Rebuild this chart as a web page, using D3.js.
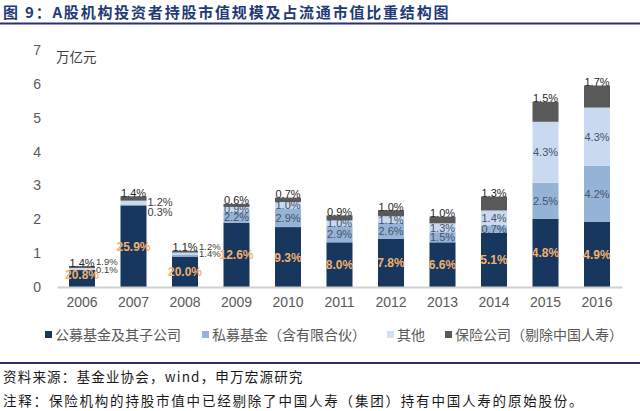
<!DOCTYPE html>
<html>
<head>
<meta charset="utf-8">
<script src="https://cdn.jsdelivr.net/npm/d3@7"></script>
<style>
  html, body { margin: 0; padding: 0; background: #fff; }
  svg { display: block; }
  text { font-family: Arial, "Liberation Sans", "Noto Sans CJK SC", sans-serif; }
  .cjk { font-family: "Noto Sans CJK SC", sans-serif; }
</style>
</head>
<body>
<svg id="chart" width="640" height="411"></svg>
<script>
// ---- data ----
const years = ['2006','2007','2008','2009','2010','2011','2012','2013','2014','2015','2016'];
const publicFund  = [0.50, 2.41, 0.90, 1.90, 1.77, 1.32, 1.42, 1.32, 1.60, 2.01, 1.92];
const privateFund = [0.003, 0.03, 0.063, 0.33, 0.55, 0.48, 0.47, 0.30, 0.22, 1.07, 1.66];
const others      = [0.06, 0.11, 0.054, 0.135, 0.19, 0.165, 0.20, 0.26, 0.44, 1.80, 1.72];
const insurance   = [0.055, 0.13, 0.05, 0.09, 0.13, 0.15, 0.18, 0.20, 0.41, 0.59, 0.65];

const publicPct    = ['20.8%','25.9%','20.0%','12.6%','9.3%','8.0%','7.8%','6.6%','5.1%','4.8%','4.9%'];
const privatePct   = ['0.1%','0.3%','1.4%','2.2%','2.9%','2.9%','2.6%','1.5%','0.7%','2.5%','4.2%'];
const othersPct    = ['1.9%','1.2%','1.2%','0.9%','1.0%','1.0%','1.1%','1.3%','1.4%','4.3%','4.3%'];
const insurancePct = ['1.4%','1.4%','1.1%','0.6%','0.7%','0.9%','1.0%','1.0%','1.3%','1.5%','1.7%'];

const seriesNames = ['公募基金及其子公司','私募基金（含有限合伙）','其他','保险公司（剔除中国人寿）'];
const yTicks = [0,1,2,3,4,5,6,7];

const titleText = '图 9：A股机构投资者持股市值规模及占流通市值比重结构图';
const unitText = '万亿元';
const sourceText = '资料来源：基金业协会，wind，申万宏源研究';
const noteText = '注释：保险机构的持股市值中已经剔除了中国人寿（集团）持有中国人寿的原始股份。';

// ---- build ----
const keys = ['pub','pri','oth','ins'];
const colors = { pub: '#17375E', pri: '#95B3D7', oth: '#C9DAF0', ins: '#595959' };
const legendColors = ['#17375E', '#95B3D7', '#D6E1F0', '#595959'];

const table = years.map((y, i) => ({
  year: y, pub: publicFund[i], pri: privateFund[i], oth: others[i], ins: insurance[i],
  pubL: publicPct[i], priL: privatePct[i], othL: othersPct[i], insL: insurancePct[i]
}));

const svg = d3.select('#chart');
svg.append('rect').attr('width', 640).attr('height', 411).attr('fill', '#fff');

const x = d3.scaleBand().domain(years).range([57, 622]).paddingInner(0.495).paddingOuter(0.233);
const y = d3.scaleLinear().domain([0, 7]).range([287, 50]);

// title
svg.append('text').attr('class','cjk')
  .attr('x', 3).attr('y', 18)
  .attr('font-size', 15).attr('font-weight', 'bold')
  .attr('letter-spacing', 1.8)
  .attr('fill', '#1F3A78')
  .text(titleText);
svg.append('line').attr('x1', 0).attr('x2', 640).attr('y1', 23.5).attr('y2', 23.5)
  .attr('stroke', '#2E3166').attr('stroke-width', 2.2);

// y axis labels
const yAxis = d3.axisLeft(y).tickValues(yTicks).tickSize(0).tickPadding(0).tickFormat(d3.format('d'));
const yg = svg.append('g').attr('transform', 'translate(41,0)').call(yAxis);
yg.select('.domain').remove();
yg.selectAll('text').attr('font-size', 14).attr('fill', '#595959')
  .attr('font-family', 'Arial, "Liberation Sans", sans-serif');

svg.append('text').attr('class','cjk').attr('x', 56).attr('y', 62)
  .attr('font-size', 13.5).attr('fill', '#404040').text(unitText);

// stacked bars
const stack = d3.stack().keys(keys);
const stacked = stack(table);

const bars = svg.append('g');
stacked.forEach(layer => {
  bars.selectAll(null).data(layer).enter().append('rect')
    .attr('x', d => x(d.data.year))
    .attr('width', x.bandwidth())
    .attr('y', d => y(d[1]))
    .attr('height', d => Math.max(0, y(d[0]) - y(d[1])))
    .attr('fill', colors[layer.key]);
});

// x axis
const xAxis = d3.axisBottom(x).tickSize(0).tickPadding(10);
const xg = svg.append('g').attr('transform', 'translate(0,287)').call(xAxis);
xg.select('.domain').attr('stroke', '#D0D0D0').attr('stroke-width', 2);
xg.selectAll('text').attr('font-size', 14).attr('fill', '#595959')
  .attr('font-family', 'Arial, "Liberation Sans", sans-serif');

// labels
const lab = svg.append('g');
const pubL = stacked[0], priL = stacked[1], othL = stacked[2], insL = stacked[3];

table.forEach((d, i) => {
  const cx = x(d.year) + x.bandwidth() / 2;
  // public fund label (orange, bold)
  lab.append('text')
    .attr('x', cx).attr('y', (y(pubL[i][0]) + y(pubL[i][1])) / 2 + 4.5 - (d.pub < 0.8 ? 4 : 0))
    .attr('text-anchor', 'middle').attr('font-size', 12).attr('font-weight', 'bold')
    .attr('fill', '#F2B06E')
    .text(d.pubL);
  // insurance label above
  lab.append('text')
    .attr('x', cx).attr('y', y(insL[i][1]) + 0.5)
    .attr('text-anchor', 'middle').attr('font-size', 11).attr('fill', '#262626')
    .text(d.insL);
  const midH = y(priL[i][0]) - y(othL[i][1]);
  if (midH < 10) {
    const small = (insL[i][1] < 1.5);
    const fs = small ? 9.5 : 11;
    const rx = x(d.year) + x.bandwidth() + 1;
    const top = y(insL[i][1]);
    const upper = small ? top - 1 : top + 10;
    lab.append('text').attr('x', rx).attr('y', upper)
      .attr('font-size', fs).attr('fill', '#404040').text(d.othL);
    lab.append('text').attr('x', rx).attr('y', upper + (small ? 7.5 : 10))
      .attr('font-size', fs).attr('fill', '#404040').text(d.priL);
  } else {
    lab.append('text').attr('x', cx).attr('y', (y(othL[i][0]) + y(othL[i][1])) / 2 + 4)
      .attr('text-anchor', 'middle').attr('font-size', 11).attr('fill', '#44546A').text(d.othL);
    lab.append('text').attr('x', cx).attr('y', (y(priL[i][0]) + y(priL[i][1])) / 2 + 4)
      .attr('text-anchor', 'middle').attr('font-size', 11).attr('fill', '#44546A').text(d.priL);
  }
});

// legend
const legendPos = [45, 202, 387, 445];
const lg = svg.append('g');
seriesNames.forEach((n, i) => {
  lg.append('rect').attr('x', legendPos[i]).attr('y', 331).attr('width', 7).attr('height', 7)
    .attr('fill', legendColors[i]);
  lg.append('text').attr('class','cjk').attr('x', legendPos[i] + 10).attr('y', 340)
    .attr('font-size', 14).attr('fill', '#595959').text(n);
});

// footer
svg.append('line').attr('x1', 0).attr('x2', 640).attr('y1', 363).attr('y2', 363)
  .attr('stroke', '#2E3166').attr('stroke-width', 2.2);
svg.append('text').attr('class','cjk').attr('x', 3).attr('y', 382)
  .attr('font-size', 13.5).attr('letter-spacing', 1.2).attr('fill', '#1a1a1a').text(sourceText);
svg.append('text').attr('class','cjk').attr('x', 3).attr('y', 406)
  .attr('font-size', 13.5).attr('letter-spacing', 1.8).attr('fill', '#1a1a1a').text(noteText);
</script>
</body>
</html>
